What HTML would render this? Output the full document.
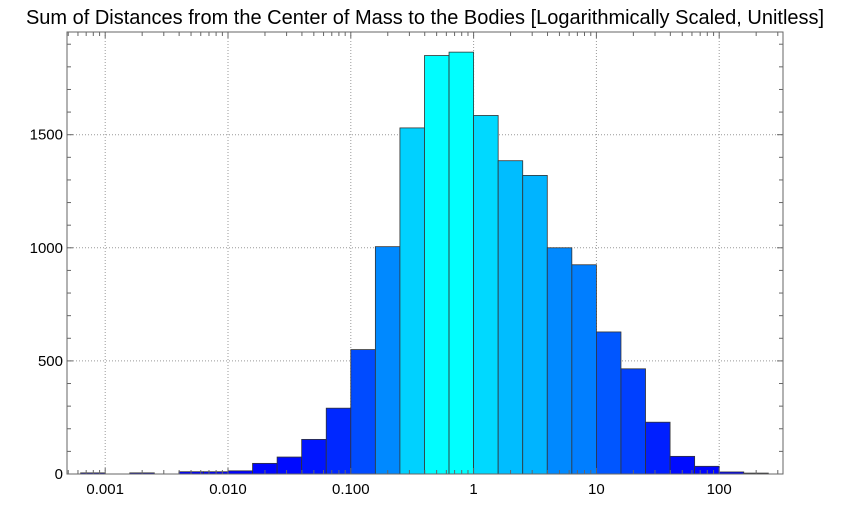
<!DOCTYPE html>
<html><head><meta charset="utf-8"><style>
body{margin:0;background:#fff;width:850px;height:500px;overflow:hidden;font-family:"Liberation Sans",sans-serif}
</style></head><body>
<svg id="chart" width="850" height="500" xmlns="http://www.w3.org/2000/svg">
<text x="425" y="24" font-size="20" text-anchor="middle" font-family="Liberation Sans, sans-serif" fill="#000">Sum of Distances from the Center of Mass to the Bodies [Logarithmically Scaled, Unitless]</text>
<g id="grid"></g><g id="bars"></g><g id="axes"></g>
</svg>
<script>
const binStarts = [-3.2,-3.0,-2.8,-2.6,-2.4,-2.2,-2.0,-1.8,-1.6,-1.4,-1.2,-1.0,-0.8,-0.6,-0.4,-0.2,0.0,0.2,0.4,0.6,0.8,1.0,1.2,1.4,1.6,1.8,2.0,2.2];
const counts = [5,0,5,0,10,10,14,47,75,153,291,550,1005,1530,1850,1865,1585,1385,1320,1000,925,628,465,229,78,34,9,4];
const binWidth = 0.2;
const xTickExps = [-3,-2,-1,0,1,2];
const xTickLabels = ["0.001","0.010","0.100","1","10","100"];
const yTicks = [0,500,1000,1500];

const L=67,R=783,T=32,B=474;
const X = e => 473.6 + e*122.8;
const Y = v => B - v*0.2262;
const NS="http://www.w3.org/2000/svg";
function mk(tag, attrs, parent){const el=document.createElementNS(NS,tag);for(const k in attrs)el.setAttribute(k,attrs[k]);parent.appendChild(el);return el;}
const grid=document.getElementById('grid'),bars=document.getElementById('bars'),axes=document.getElementById('axes');
const maxC=Math.max(...counts);
// gridlines
xTickExps.forEach(e=>{const l=mk('line',{x1:X(e),x2:X(e),y1:T,y2:B,stroke:'#999','stroke-dasharray':'1,2','stroke-width':1},grid);

});
yTicks.forEach(v=>{if(v===0)return;const l=mk('line',{x1:L,x2:R,y1:Y(v),y2:Y(v),stroke:'#999','stroke-dasharray':'1,2','stroke-width':1},grid);

});
// bars
binStarts.forEach((s,i)=>{const c=counts[i];if(c<=0)return;
const g=Math.round(255*c/maxC);
const r=mk('rect',{x:X(s),y:Y(c),width:X(s+binWidth)-X(s),height:B-Y(c),fill:`rgb(0,${g},255)`,stroke:'#333','stroke-width':0.8},bars);

});
// frame
const f=mk('rect',{x:L,y:T,width:R-L,height:B-T,fill:'none',stroke:'#666','stroke-width':1},axes);


// x ticks
for(let e=-4;e<=3;e++){for(let m=1;m<=9;m++){const xe=e+Math.log10(m);const x=X(xe);if(x<L+1||x>R-1)continue;const len=m===1?6:4;
mk('line',{x1:x,x2:x,y1:B,y2:B-len,stroke:'#666'},axes);mk('line',{x1:x,x2:x,y1:T,y2:T+len,stroke:'#666'},axes);}}
xTickExps.forEach((e,i)=>{const t=mk('text',{x:X(e),y:B+20,'font-size':15,'text-anchor':'middle',fill:'#000'},axes);t.textContent=xTickLabels[i];

});
// y ticks
for(let v=0;v<=1900;v+=100){const y=Y(v);if(y<T)continue;const len=v%500===0?6:4;
mk('line',{x1:L,x2:L+len,y1:y,y2:y,stroke:'#666'},axes);mk('line',{x1:R,x2:R-len,y1:y,y2:y,stroke:'#666'},axes);}
yTicks.forEach(v=>{const t=mk('text',{x:L-4,y:Y(v)+5,'font-size':15,'text-anchor':'end',fill:'#000'},axes);t.textContent=String(v);

});
</script>
</body></html>
